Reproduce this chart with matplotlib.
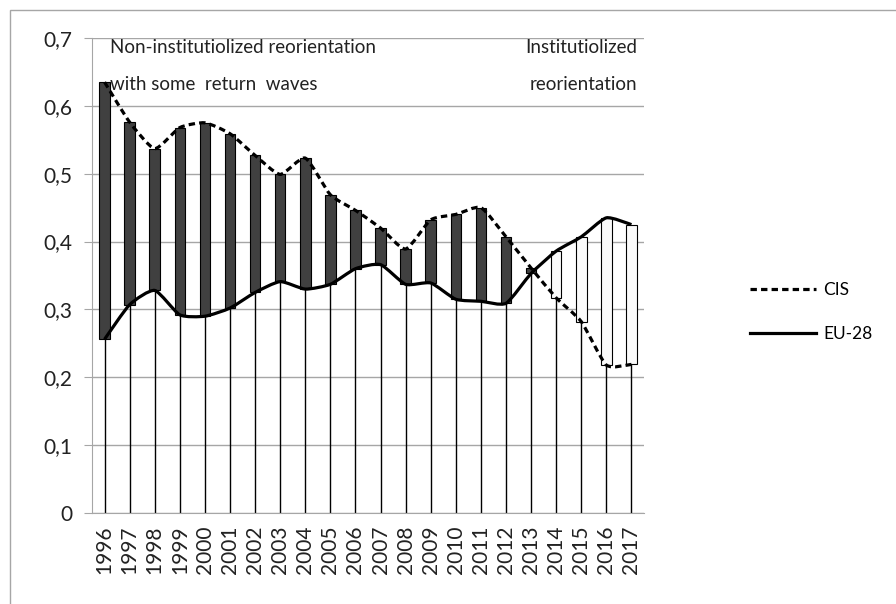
import matplotlib
matplotlib.use("Agg")
import matplotlib.pyplot as plt
import numpy as np
from matplotlib.lines import Line2D
from matplotlib.patches import PathPatch, Rectangle
from matplotlib.path import Path

# ──────────────────────────────────────────────
# Data
# ──────────────────────────────────────────────
years = [1996, 1997, 1998, 1999, 2000, 2001, 2002, 2003, 2004, 2005, 2006,
         2007, 2008, 2009, 2010, 2011, 2012, 2013, 2014, 2015, 2016, 2017]
cis = [0.635, 0.576, 0.537, 0.568, 0.575, 0.559, 0.527, 0.499, 0.523, 0.469, 0.446,
       0.420, 0.389, 0.432, 0.440, 0.450, 0.407, 0.361, 0.317, 0.282, 0.218, 0.219]
eu28 = [0.256, 0.307, 0.328, 0.292, 0.290, 0.302, 0.325, 0.341, 0.330, 0.337, 0.360,
        0.366, 0.337, 0.339, 0.315, 0.312, 0.309, 0.353, 0.386, 0.407, 0.435, 0.425]
y_ticks = [0, 0.1, 0.2, 0.3, 0.4, 0.5, 0.6, 0.7]
y_tick_labels = ["0", "0,1", "0,2", "0,3", "0,4", "0,5", "0,6", "0,7"]

FONT = "Lato"
GRID = "#a6a6a6"
TXT = "#222222"


def smooth_path(xs, ys, k=10.0):
    """Lightly smoothed cubic Bezier path through the points."""
    pts = np.column_stack([xs, ys]).astype(float)
    n = len(pts)
    verts = [pts[0]]
    codes = [Path.MOVETO]
    for i in range(n - 1):
        p0 = pts[max(i - 1, 0)]
        p1 = pts[i]
        p2 = pts[i + 1]
        p3 = pts[min(i + 2, n - 1)]
        verts += [p1 + (p2 - p0) / k, p2 - (p3 - p1) / k, p2]
        codes += [Path.CURVE4] * 3
    return Path(verts, codes)


fig = plt.figure(figsize=(8.96, 6.04), dpi=100)
ax = fig.add_axes([92 / 896, 1 - 513 / 604, 552 / 896, 475 / 604])

x = np.arange(len(years))
cis_a = np.array(cis)
eu_a = np.array(eu28)
lo = np.minimum(cis_a, eu_a)
hi = np.maximum(cis_a, eu_a)

# high-low lines from zero
ax.vlines(x, 0, hi, color="black", lw=1.0, zorder=2)

# up/down bars: dark where CIS above EU-28, white otherwise
colors = np.where(cis_a >= eu_a, "#404040", "#fafafa")
ax.bar(x, hi - lo, bottom=lo, width=0.42, color=colors,
       edgecolor="black", linewidth=0.8, zorder=3)

# smoothed series lines
ax.add_patch(PathPatch(smooth_path(x, cis_a), fill=False, edgecolor="black",
                       lw=2.3, linestyle=(0, (2.0, 1.3)), zorder=4))
ax.add_patch(PathPatch(smooth_path(x, eu_a), fill=False, edgecolor="black",
                       lw=2.3, zorder=4))

ax.set_xlim(-0.5, len(years) - 0.5)
ax.set_ylim(0, 0.7)
ax.set_yticks(y_ticks)
ax.set_yticklabels(y_tick_labels, fontsize=15, family=FONT, color=TXT)
ax.set_xticks(x)
ax.set_xticklabels([str(y) for y in years], rotation=90, fontsize=15,
                   family=FONT, color=TXT)
ax.tick_params(axis="y", length=6, color=GRID, pad=8)
ax.tick_params(axis="x", length=0, pad=9)
ax.yaxis.grid(True, color=GRID, lw=1)
ax.set_axisbelow(True)
ax.spines[["top", "right"]].set_visible(False)
ax.spines["left"].set_color(GRID)
ax.spines["bottom"].set_color(GRID)

# period annotations
ax.text(0.032, 0.981, "Non-institutiolized reorientation", transform=ax.transAxes,
        ha="left", va="center", fontsize=13.5, family=FONT, color=TXT)
ax.text(0.032, 0.903, "with some  return  waves", transform=ax.transAxes,
        ha="left", va="center", fontsize=13.5, family=FONT, color=TXT)
ax.text(0.987, 0.981, "Institutiolized", transform=ax.transAxes,
        ha="right", va="center", fontsize=13.5, family=FONT, color=TXT)
ax.text(0.987, 0.903, "reorientation", transform=ax.transAxes,
        ha="right", va="center", fontsize=13.5, family=FONT, color=TXT)

# legend
handles = [
    Line2D([], [], color="black", lw=2.3, linestyle=(0, (2.0, 1.3))),
    Line2D([], [], color="black", lw=2.3),
]
fig.legend(handles, ["CIS", "EU-28"], loc="center left",
           bbox_to_anchor=(750 / 896, 1 - 312 / 604), frameon=False,
           prop={"family": FONT, "size": 12.5}, handlelength=3.8,
           handletextpad=0.4, labelspacing=1.6, borderpad=0, borderaxespad=0)

# outer chart-area border (only top and left visible)
fig.add_artist(Rectangle((10 / 896, -0.1), 1.2, 1 - 10 / 604 + 0.1,
                         transform=fig.transFigure, fill=False,
                         edgecolor=GRID, lw=1.0))

fig.savefig("out.png", dpi=100)
